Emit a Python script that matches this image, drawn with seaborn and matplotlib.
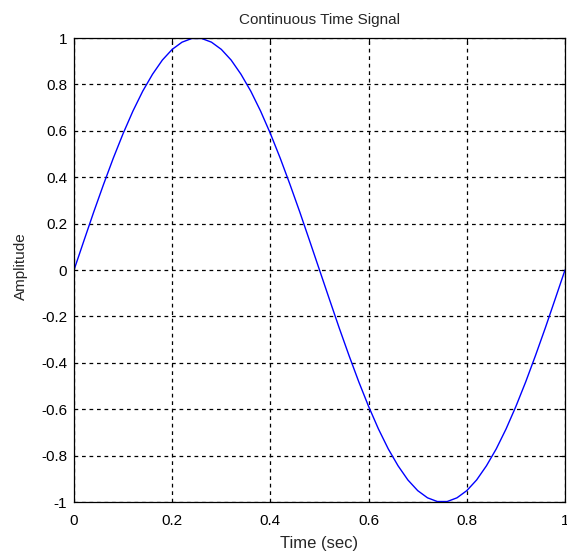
import matplotlib
matplotlib.use("Agg")
import matplotlib.pyplot as plt
import seaborn as sns
import pandas as pd

# Sampled signal: time (s) and amplitude at 0.02 s steps
time_sec = [0.00, 0.02, 0.04, 0.06, 0.08, 0.10, 0.12, 0.14, 0.16, 0.18,
            0.20, 0.22, 0.24, 0.26, 0.28, 0.30, 0.32, 0.34, 0.36, 0.38,
            0.40, 0.42, 0.44, 0.46, 0.48, 0.50, 0.52, 0.54, 0.56, 0.58,
            0.60, 0.62, 0.64, 0.66, 0.68, 0.70, 0.72, 0.74, 0.76, 0.78,
            0.80, 0.82, 0.84, 0.86, 0.88, 0.90, 0.92, 0.94, 0.96, 0.98, 1.00]
amplitude = [0.000, 0.125, 0.249, 0.368, 0.482, 0.588, 0.685, 0.771, 0.844, 0.905,
             0.951, 0.982, 0.998, 0.998, 0.982, 0.951, 0.905, 0.844, 0.771, 0.685,
             0.588, 0.482, 0.368, 0.249, 0.125, 0.000, -0.125, -0.249, -0.368, -0.482,
             -0.588, -0.685, -0.771, -0.844, -0.905, -0.951, -0.982, -0.998, -0.998, -0.982,
             -0.951, -0.905, -0.844, -0.771, -0.685, -0.588, -0.482, -0.368, -0.249, -0.125, 0.000]

x_ticks = [0, 0.2, 0.4, 0.6, 0.8, 1]
x_tick_labels = ["0", "0.2", "0.4", "0.6", "0.8", "1"]
y_ticks = [-1, -0.8, -0.6, -0.4, -0.2, 0, 0.2, 0.4, 0.6, 0.8, 1]
y_tick_labels = ["-1", "-0.8", "-0.6", "-0.4", "-0.2", "0", "0.2", "0.4", "0.6", "0.8", "1"]

sns.set_style("white")
plt.rcParams["font.family"] = ["Liberation Sans", "DejaVu Sans"]

df = pd.DataFrame({"t": time_sec, "y": amplitude})

fig = plt.figure(figsize=(5.67, 5.53), dpi=100)
ax = fig.add_axes([74 / 567, 1 - 502 / 553, (565 - 74) / 567, (502 - 38) / 553])
sns.lineplot(data=df, x="t", y="y", ax=ax, color="#0000ff", linewidth=1.0)

ax.set_xlim(0, 1)
ax.set_ylim(-1, 1)
ax.set_xticks(x_ticks)
ax.set_xticklabels(x_tick_labels)
ax.set_yticks(y_ticks)
ax.set_yticklabels(y_tick_labels)
ax.grid(True, color="black", linestyle=(0, (3, 3)), linewidth=0.9)
ax.tick_params(direction="in", length=4, width=0.8, colors="black",
               labelsize=11, top=True, right=True)
ax.tick_params(axis="x", pad=8.6)
ax.tick_params(axis="y", pad=5)
for s in ax.spines.values():
    s.set_color("black")
    s.set_linewidth(0.9)

ax.set_title("Continuous Time Signal", fontsize=11, pad=10)
ax.set_xlabel("Time (sec)", fontsize=12, labelpad=5.5)
ax.set_ylabel("Amplitude", fontsize=11)
ax.yaxis.set_label_coords(-0.094, 0.509)

fig.savefig("out.png", dpi=100)
